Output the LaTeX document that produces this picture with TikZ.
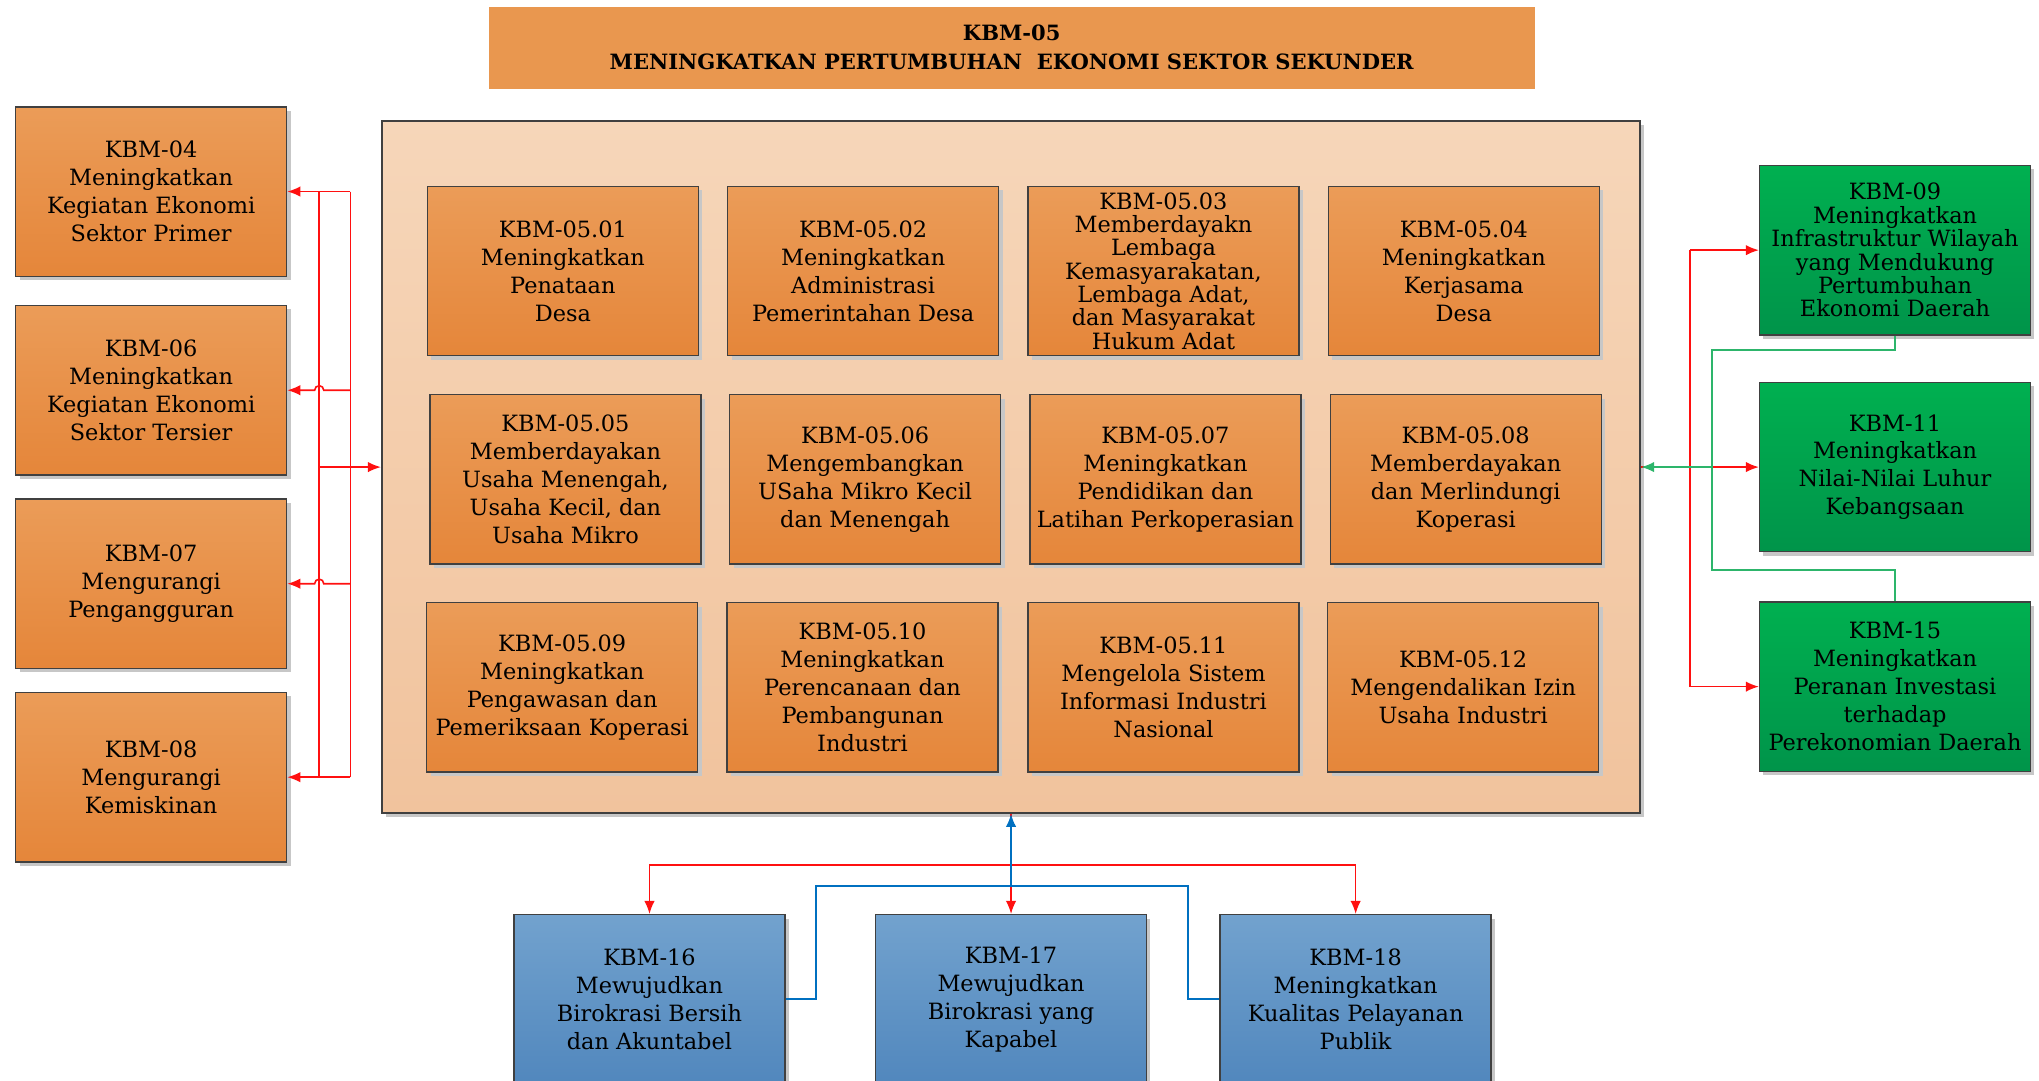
\documentclass[tikz,border=0pt]{standalone}
\usepackage{fontspec}
\setmainfont{DejaVu Serif}
\usetikzlibrary{shadows,arrows.meta}

\definecolor{orTop}{HTML}{EB9C58}
\definecolor{orBot}{HTML}{E5863A}
\definecolor{peachTop}{HTML}{F6D6B9}
\definecolor{peachBot}{HTML}{F1C39D}
\definecolor{titleFill}{HTML}{E9974F}
\definecolor{grTop}{HTML}{00B050}
\definecolor{grBot}{HTML}{00944A}
\definecolor{blTop}{HTML}{72A2CE}
\definecolor{blBot}{HTML}{5187BD}
\definecolor{edge}{HTML}{404040}
\definecolor{lineRed}{HTML}{FF1010}
\definecolor{lineGreen}{HTML}{2DB56B}
\definecolor{lineBlue}{HTML}{0070C0}

\tikzset{
  kbmbox/.style={draw=edge, line width=0.6pt, minimum width=4.16cm, minimum height=2.6cm,
    align=center, inner sep=1pt, font=\fontsize{9.8}{12.2}\selectfont,
    drop shadow={shadow xshift=0.06cm, shadow yshift=-0.06cm, fill=black!22, opacity=1}},
  tight/.style={font=\fontsize{9.8}{10.2}\selectfont},
  orangebox/.style={kbmbox, top color=orTop, bottom color=orBot},
  greenbox/.style={kbmbox, top color=grTop, bottom color=grBot},
  bluebox/.style={kbmbox, top color=blTop, bottom color=blBot},
  mainbox/.style={draw=edge, line width=0.8pt, minimum width=19.32cm, minimum height=10.62cm,
    top color=peachTop, bottom color=peachBot,
    drop shadow={shadow xshift=0.06cm, shadow yshift=-0.06cm, fill=black!22, opacity=1}},
  titlebox/.style={fill=titleFill, minimum width=16.06cm, minimum height=1.26cm, align=center,
    font=\fontsize{9.2}{12.6}\selectfont\bfseries},
  redline/.style={draw=lineRed, line width=0.7pt},
  greenline/.style={draw=lineGreen, line width=0.7pt},
  blueline/.style={draw=lineBlue, line width=0.8pt},
  tip/.style={-{Latex[length=2mm,width=1.6mm]}}
}

\begin{document}
\begin{tikzpicture}[x=0.02cm, y=-0.02cm]
  \useasboundingbox (0,0) rectangle (1565,829);

  % title
  \node[titlebox] (title) at (776.5,36.5) {KBM-05\\MENINGKATKAN PERTUMBUHAN \ EKONOMI SEKTOR SEKUNDER};

  % main frame with the twelve programmes
  \node[mainbox] (main) at (776,358.5) {};
  \node[orangebox] (p01) at (432,208) {KBM-05.01\\Meningkatkan\\Penataan\\Desa};
  \node[orangebox] (p02) at (662.5,208) {KBM-05.02\\Meningkatkan\\Administrasi\\Pemerintahan Desa};
  \node[orangebox, tight] (p03) at (893,208) {KBM-05.03\\Memberdayakn\\Lembaga\\Kemasyarakatan,\\Lembaga Adat,\\dan Masyarakat\\Hukum Adat};
  \node[orangebox] (p04) at (1123.5,208) {KBM-05.04\\Meningkatkan\\Kerjasama\\Desa};
  \node[orangebox] (p05) at (434,368) {KBM-05.05\\Memberdayakan\\Usaha Menengah,\\Usaha Kecil, dan\\Usaha Mikro};
  \node[orangebox] (p06) at (664,368) {KBM-05.06\\Mengembangkan\\USaha Mikro Kecil\\dan Menengah};
  \node[orangebox] (p07) at (894.5,368) {KBM-05.07\\Meningkatkan\\Pendidikan dan\\Latihan Perkoperasian};
  \node[orangebox] (p08) at (1125,368) {KBM-05.08\\Memberdayakan\\dan Merlindungi\\Koperasi};
  \node[orangebox] (p09) at (431.5,527.5) {KBM-05.09\\Meningkatkan\\Pengawasan dan\\Pemeriksaan Koperasi};
  \node[orangebox] (p10) at (662,527.5) {KBM-05.10\\Meningkatkan\\Perencanaan dan\\Pembangunan\\Industri};
  \node[orangebox] (p11) at (893,527.5) {KBM-05.11\\Mengelola Sistem\\Informasi Industri\\Nasional};
  \node[orangebox] (p12) at (1123,527.5) {KBM-05.12\\Mengendalikan Izin\\Usaha Industri};

  % left side
  \node[orangebox] (kbm04) at (116,147) {KBM-04\\Meningkatkan\\Kegiatan Ekonomi\\Sektor Primer};
  \node[orangebox] (kbm06) at (116,299.5) {KBM-06\\Meningkatkan\\Kegiatan Ekonomi\\Sektor Tersier};
  \node[orangebox] (kbm07) at (116,448) {KBM-07\\Mengurangi\\Pengangguran};
  \node[orangebox] (kbm08) at (116,596.5) {KBM-08\\Mengurangi\\Kemiskinan};

  % right side
  \node[greenbox, tight] (kbm09) at (1454.5,192) {KBM-09\\Meningkatkan\\Infrastruktur Wilayah\\yang Mendukung\\Pertumbuhan\\Ekonomi Daerah};
  \node[greenbox] (kbm11) at (1454.5,358.5) {KBM-11\\Meningkatkan\\Nilai-Nilai Luhur\\Kebangsaan};
  \node[greenbox] (kbm15) at (1454.5,527) {KBM-15\\Meningkatkan\\Peranan Investasi\\terhadap\\Perekonomian Daerah};

  % bottom
  \node[bluebox] (kbm16) at (498.5,767) {KBM-16\\Mewujudkan\\Birokrasi Bersih\\dan Akuntabel};
  \node[bluebox] (kbm17) at (776,767) {KBM-17\\Mewujudkan\\Birokrasi yang\\Kapabel};
  \node[bluebox] (kbm18) at (1040.5,767) {KBM-18\\Meningkatkan\\Kualitas Pelayanan\\Publik};

  % left connectors
  \coordinate (lIn) at (245,358.5);
  \coordinate (lOut) at (269,358.5);
  \draw[redline] (lIn |- kbm04.east) -- (lIn |- kbm08.east);
  \draw[redline] (lOut |- kbm04.east) -- (lOut |- kbm08.east);
  \draw[redline, tip] (lIn) -- (main.west);
  \draw[redline, tip] (lOut |- kbm04.east) -- (kbm04.east);
  \draw[redline, tip] (lOut |- kbm06.east) -- ([xshift=0.07cm]lIn |- kbm06.east)
    arc[start angle=0, end angle=180, radius=0.07cm] -- (kbm06.east);
  \draw[redline, tip] (lOut |- kbm07.east) -- ([xshift=0.07cm]lIn |- kbm07.east)
    arc[start angle=0, end angle=180, radius=0.07cm] -- (kbm07.east);
  \draw[redline, tip] (lOut |- kbm08.east) -- (kbm08.east);

  % right connectors
  \coordinate (rJ) at (1297,358.5);
  \coordinate (gJ) at (1314,358.5);
  \draw[redline] (rJ |- kbm09.west) -- (rJ |- kbm15.west);
  \draw[redline, tip] (rJ |- kbm09.west) -- (kbm09.west);
  \draw[redline, tip] (rJ |- kbm15.west) -- (kbm15.west);
  \draw[redline, tip] (main.east) -- (kbm11.west);
  \draw[greenline] (kbm09.south) -- ++(0,11) -| (gJ);
  \draw[greenline] (kbm15.north) -- ++(0,-24) -| (gJ);
  \draw[greenline, tip] (gJ) -- (main.east);

  % bottom connectors
  \coordinate (rM) at (776,664);
  \coordinate (bL) at (626,680);
  \coordinate (bR) at (912,680);
  \draw[redline] (main.south) -- (rM);
  \draw[redline, tip] (rM) -| (kbm16.north);
  \draw[redline, tip] (rM) -| (kbm18.north);
  \draw[redline, tip] (rM) -- (kbm17.north);
  \draw[blueline] (kbm16.east) -| (bL) -- (bR) |- (kbm18.west);
  \draw[blueline, tip] (bL -| main.south) -- (main.south);
\end{tikzpicture}
\end{document}
